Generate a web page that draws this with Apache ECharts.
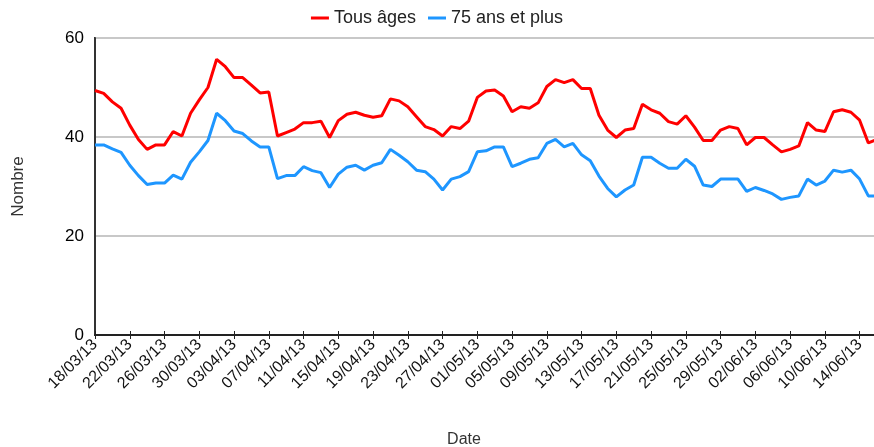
<!DOCTYPE html>
<html>
<head>
<meta charset="utf-8">
<script src="https://cdn.jsdelivr.net/npm/echarts@6/dist/echarts.min.js"></script>
<style>
  html, body { margin: 0; padding: 0; background: #fff; }
  #chart { width: 874px; height: 447px; }
</style>
</head>
<body>
<div id="chart"></div>
<script>
const dates = [
  '18/03/13', '19/03/13', '20/03/13', '21/03/13', '22/03/13', '23/03/13', '24/03/13', '25/03/13', '26/03/13', '27/03/13',
  '28/03/13', '29/03/13', '30/03/13', '31/03/13', '01/04/13', '02/04/13', '03/04/13', '04/04/13', '05/04/13', '06/04/13',
  '07/04/13', '08/04/13', '09/04/13', '10/04/13', '11/04/13', '12/04/13', '13/04/13', '14/04/13', '15/04/13', '16/04/13',
  '17/04/13', '18/04/13', '19/04/13', '20/04/13', '21/04/13', '22/04/13', '23/04/13', '24/04/13', '25/04/13', '26/04/13',
  '27/04/13', '28/04/13', '29/04/13', '30/04/13', '01/05/13', '02/05/13', '03/05/13', '04/05/13', '05/05/13', '06/05/13',
  '07/05/13', '08/05/13', '09/05/13', '10/05/13', '11/05/13', '12/05/13', '13/05/13', '14/05/13', '15/05/13', '16/05/13',
  '17/05/13', '18/05/13', '19/05/13', '20/05/13', '21/05/13', '22/05/13', '23/05/13', '24/05/13', '25/05/13', '26/05/13',
  '27/05/13', '28/05/13', '29/05/13', '30/05/13', '31/05/13', '01/06/13', '02/06/13', '03/06/13', '04/06/13', '05/06/13',
  '06/06/13', '07/06/13', '08/06/13', '09/06/13', '10/06/13', '11/06/13', '12/06/13', '13/06/13', '14/06/13', '15/06/13',
  '16/06/13'
]

// Tous âges
const tousAges = [
  49.4, 48.8, 47.1, 45.8, 42.4, 39.5, 37.5, 38.4, 38.4, 41.1,
  40.2, 44.8, 47.5, 50.0, 55.7, 54.2, 52.0, 52.0, 50.5, 48.9,
  49.1, 40.2, 40.9, 41.6, 42.9, 42.9, 43.2, 39.9, 43.3, 44.6,
  45.0, 44.4, 44.0, 44.3, 47.7, 47.3, 46.1, 44.1, 42.1, 41.5,
  40.2, 42.1, 41.7, 43.2, 48.0, 49.3, 49.5, 48.3, 45.1, 46.1,
  45.8, 46.9, 50.2, 51.6, 51.0, 51.6, 49.8, 49.8, 44.4, 41.4,
  39.9, 41.4, 41.7, 46.6, 45.5, 44.8, 43.1, 42.6, 44.3, 42.0,
  39.3, 39.3, 41.4, 42.1, 41.7, 38.4, 39.9, 39.9, 38.4, 37.0,
  37.5, 38.2, 42.9, 41.4, 41.1, 45.1, 45.5, 45.0, 43.4, 38.8,
  39.5
]

// 75 ans et plus
const plus75 = [
  38.4, 38.4, 37.6, 36.9, 34.3, 32.2, 30.4, 30.7, 30.7, 32.3,
  31.5, 34.9, 37.0, 39.3, 44.8, 43.3, 41.2, 40.7, 39.2, 38.0,
  38.0, 31.6, 32.2, 32.2, 34.0, 33.2, 32.8, 29.8, 32.5, 33.9,
  34.3, 33.3, 34.3, 34.8, 37.5, 36.3, 35.0, 33.3, 33.0, 31.5,
  29.3, 31.5, 32.0, 33.0, 37.0, 37.2, 38.0, 38.0, 34.0, 34.7,
  35.5, 35.8, 38.7, 39.5, 38.0, 38.7, 36.4, 35.2, 32.1, 29.6,
  27.9, 29.3, 30.3, 35.9, 35.9, 34.7, 33.7, 33.7, 35.5, 34.1,
  30.3, 30.0, 31.5, 31.5, 31.5, 29.0, 29.8, 29.2, 28.5, 27.4,
  27.8, 28.1, 31.5, 30.3, 31.1, 33.3, 32.9, 33.3, 31.5, 28.1,
  28.1
]

const yTicks = [0, 20, 40, 60]

const font = 'Liberation Sans, Arial, sans-serif'
const chart = echarts.init(document.getElementById('chart'))
chart.setOption({
  animation: false,
  textStyle: { fontFamily: font },
  legend: {
    top: 4,
    left: 'center',
    icon: 'rect',
    itemWidth: 18,
    itemHeight: 3,
    itemGap: 12,
    textStyle: { fontSize: 18, color: '#222', fontFamily: font },
    data: ['Tous âges', '75 ans et plus']
  },
  grid: {
    left: 95,
    right: -3,
    top: 38,
    bottom: 112,
    outerBoundsMode: 'none',
    containLabel: false,
    show: true,
    borderColor: '#333',
    borderWidth: 2
  },
  xAxis: [{
    type: 'category',
    data: dates,
    boundaryGap: false,
    name: 'Date',
    nameLocation: 'middle',
    nameGap: 97,
    nameTextStyle: { fontSize: 16, color: '#333', fontFamily: font, padding: [0, 44, 0, 0] },
    axisLine: { lineStyle: { color: '#222', width: 2 } },
    axisTick: { interval: 3, length: 4, lineStyle: { color: '#222', width: 1 } },
    axisLabel: {
      interval: 3,
      rotate: 45,
      fontSize: 16,
      color: '#111',
      margin: 7,
      fontFamily: font
    },
    splitLine: { show: false }
  }, {
    type: 'category',
    data: dates,
    boundaryGap: false,
    position: 'bottom',
    axisLine: { show: false },
    axisTick: { inside: true, interval: 3, length: 4, lineStyle: { color: '#222', width: 1 } },
    axisLabel: { show: false }
  }],
  yAxis: {
    type: 'value',
    min: yTicks[0],
    max: yTicks[yTicks.length - 1],
    interval: 20,
    name: 'Nombre',
    nameLocation: 'middle',
    nameGap: 68,
    nameTextStyle: { fontSize: 17, color: '#333', fontFamily: font },
    axisLine: { show: true, lineStyle: { color: '#333', width: 2 } },
    axisTick: { show: false },
    axisLabel: { fontSize: 17, color: '#000', margin: 11, fontFamily: font },
    splitLine: { lineStyle: { color: '#c8c8c8', width: 2 } }
  },
  series: [{
    name: 'Tous âges',
    type: 'line',
    data: tousAges,
    showSymbol: false,
    color: '#ff0000',
    lineStyle: { color: '#ff0000', width: 3 }
  }, {
    name: '75 ans et plus',
    type: 'line',
    data: plus75,
    showSymbol: false,
    color: '#1e96ff',
    lineStyle: { color: '#1e96ff', width: 3 }
  }]
})
</script>
</body>
</html>
